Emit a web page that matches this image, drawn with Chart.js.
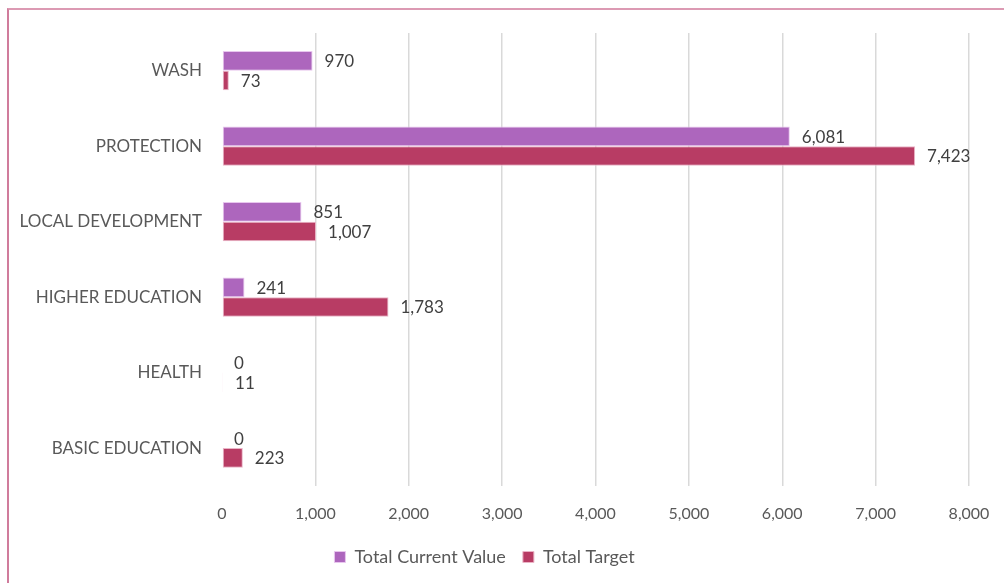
<!DOCTYPE html>
<html>
<head>
<meta charset="utf-8">
<script src="https://cdn.jsdelivr.net/npm/chart.js@4.4.0/dist/chart.umd.min.js"></script>
<style>
  html, body { margin: 0; padding: 0; background: #fff; }
  #wrap { position: relative; width: 1004px; height: 583px; overflow: hidden; }
  #frame { position: absolute; left: 7px; top: 8px; width: 1100px; height: 700px;
           border-top: 2px solid #dc9ab3; border-left: 2px solid #d07c9c; }
  canvas { position: absolute; left: 0; top: 0; }
</style>
</head>
<body>
<div id="wrap">
  <div id="frame"></div>
  <canvas id="myChart" width="1004" height="583"></canvas>
</div>
<script>
// chart data
const categories = ['WASH', 'PROTECTION', 'LOCAL DEVELOPMENT', 'HIGHER EDUCATION', 'HEALTH', 'BASIC EDUCATION'];
const currentValue = [970, 6081, 851, 241, 0, 0];
const targetValue = [73, 7423, 1007, 1783, 11, 223];
const seriesNames = ['Total Current Value', 'Total Target'];

const fontName = 'Lato, "Open Sans", sans-serif';

// values written to the right of each bar
const barLabels = {
  id: 'barLabels',
  afterDatasetsDraw(chart) {
    const ctx = chart.ctx;
    ctx.save();
    ctx.font = '17px ' + fontName;
    ctx.fillStyle = '#404040';
    ctx.textAlign = 'left';
    ctx.textBaseline = 'middle';
    chart.data.datasets.forEach(function(ds, i) {
      chart.getDatasetMeta(i).data.forEach(function(bar, j) {
        ctx.fillText(ds.data[j].toLocaleString('en-US'), bar.x + 12, bar.y + 1);
      });
    });
    ctx.restore();
  }
};

new Chart('myChart', {
  type: 'bar',
  data: {
    labels: categories,
    datasets: [{
      label: seriesNames[0],
      data: currentValue,
      backgroundColor: '#ad66bd',
      borderColor: '#e8c6ee',
      borderWidth: 1,
      borderSkipped: false,
      categoryPercentage: 0.52,
      barPercentage: 1
    }, {
      label: seriesNames[1],
      data: targetValue,
      backgroundColor: '#b83c64',
      borderColor: '#eab4c6',
      borderWidth: 1,
      borderSkipped: false,
      categoryPercentage: 0.52,
      barPercentage: 1
    }]
  },
  options: {
    indexAxis: 'y',
    responsive: false,
    animation: false,
    layout: { padding: { top: 33, right: 35, bottom: 7, left: 0 } },
    scales: {
      x: {
        min: 0,
        max: 8000,
        ticks: {
          stepSize: 1000,
          color: '#595959',
          font: { family: fontName, size: 16 },
          padding: 18,
          callback: function(v) { return v.toLocaleString('en-US'); }
        },
        grid: {
          color: function(c) { return c.index === 0 ? 'rgba(0,0,0,0)' : '#d9d9d9'; },
          lineWidth: 1.5,
          drawTicks: false
        },
        border: { display: false },
        afterFit: function(scale) {
          scale.height -= 10;
          scale.paddingRight = 0;
          scale.paddingLeft = 0;
        }
      },
      y: {
        ticks: {
          color: '#595959',
          font: { family: fontName, size: 17 },
          padding: 12
        },
        grid: { display: false },
        border: { display: false },
        afterFit: function(scale) { scale.width = 222; }
      }
    },
    plugins: {
      legend: {
        position: 'bottom',
        labels: {
          usePointStyle: true,
          pointStyle: 'rect',
          boxWidth: 11,
          boxHeight: 11,
          padding: 17,
          color: '#595959',
          font: { family: fontName, size: 18 }
        }
      },
      tooltip: { enabled: false }
    }
  },
  plugins: [barLabels]
});
</script>
</body>
</html>
